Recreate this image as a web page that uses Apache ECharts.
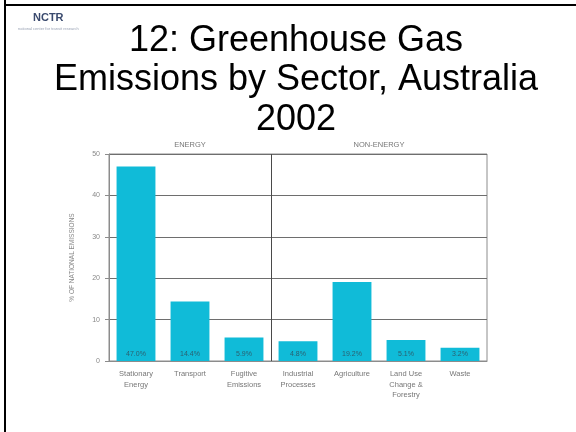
<!DOCTYPE html>
<html><head><meta charset="utf-8">
<script src="https://cdn.jsdelivr.net/npm/echarts@6/dist/echarts.min.js"></script>
<style>html,body{margin:0;padding:0;background:#fff}#c{width:576px;height:432px}</style>
</head><body><div id="c"></div>
<script>
const categories = ["Stationary\nEnergy","Transport","Fugitive\nEmissions","Industrial\nProcesses","Agriculture","Land Use\nChange &\nForestry","Waste"];
const values = [47.0, 14.4, 5.7, 4.8, 19.1, 5.1, 3.2];
const barLabels = ["47.0%","14.4%","5.9%","4.8%","19.2%","5.1%","3.2%"];
const yTicks = [0, 10, 20, 30, 40, 50];
const groupLabels = {1.5: "ENERGY", 5: "NON-ENERGY"};
const groupDivider = 3;
const titleText = "12: Greenhouse Gas\nEmissions by Sector, Australia\n2002";

const chart = echarts.init(document.getElementById('c'), null, {renderer:'canvas'});
const gray = '#8c8c8c';
// divider colour list for the top (0..7 step 0.5) axis split lines
const topSplitColors = [];
for (let k = 0; k <= 14; k++) topSplitColors.push(k * 0.5 === groupDivider ? '#4a4a4a' : 'rgba(0,0,0,0)');

chart.setOption({
  animation:false,
  backgroundColor:'#fff',
  title:{
    text:titleText, left:291, top:16, textAlign:'center',
    textStyle:{fontFamily:'Liberation Sans, Arial', fontSize:36, fontWeight:'normal', color:'#000', lineHeight:39.5}
  },
  graphic:[
    {type:'line', shape:{x1:5,y1:0,x2:5,y2:432}, style:{stroke:'#000', lineWidth:2}},
    {type:'line', shape:{x1:4,y1:5,x2:576,y2:5}, style:{stroke:'#000', lineWidth:2}},
    {type:'text', left:33, top:12, style:{text:'NCTR', font:'bold 11px Liberation Sans, Arial', fill:'#3a4a6e'}},
    {type:'text', left:18, top:27, style:{text:'national center for transit research', font:'4px Liberation Sans, Arial', fill:'#9aa3b5'}}
  ],
  grid:{left:109, right:89, top:154, bottom:71, show:true, borderColor:gray, borderWidth:1},
  xAxis:[{
    type:'category', data:categories,
    axisLine:{show:true, lineStyle:{color:gray}},
    axisTick:{show:false},
    axisLabel:{fontFamily:'Liberation Sans, Arial', fontSize:7.5, color:'#777', lineHeight:10.5, margin:8, interval:0},
    splitLine:{show:false}
  },{
    type:'value', position:'top', min:0, max:7, interval:0.5,
    axisLine:{show:false}, axisTick:{show:false},
    splitLine:{show:true, lineStyle:{color:topSplitColors, width:1}},
    axisLabel:{fontFamily:'Liberation Sans, Arial', fontSize:7.5, color:'#777', margin:5,
      formatter:function(v){return groupLabels[v] || '';}}
  }],
  yAxis:{
    type:'value', min:0, max:50, interval:10,
    name:'% OF NATIONAL EMISSIONS', nameLocation:'middle', nameGap:33, nameRotate:90,
    nameTextStyle:{fontFamily:'Liberation Sans, Arial', fontSize:6.5, color:'#888'},
    axisLine:{show:true, lineStyle:{color:gray}},
    axisTick:{show:true, length:4, lineStyle:{color:gray}},
    axisLabel:{fontFamily:'Liberation Sans, Arial', fontSize:7, color:'#888', margin:9,
      formatter:function(v){return yTicks.indexOf(v)>=0 ? String(v) : '';}},
    splitLine:{show:true, lineStyle:{color:'#6e6e6e', width:1}}
  },
  series:[{
    type:'bar', data:values, barWidth:'72%', xAxisIndex:0,
    itemStyle:{color:'#10bbd8'},
    label:{show:true, position:'insideBottom', distance:3, fontFamily:'Liberation Sans, Arial', fontSize:7, color:'#2b6070',
      formatter:function(p){return barLabels[p.dataIndex];}}
  }]
});
</script></body></html>
